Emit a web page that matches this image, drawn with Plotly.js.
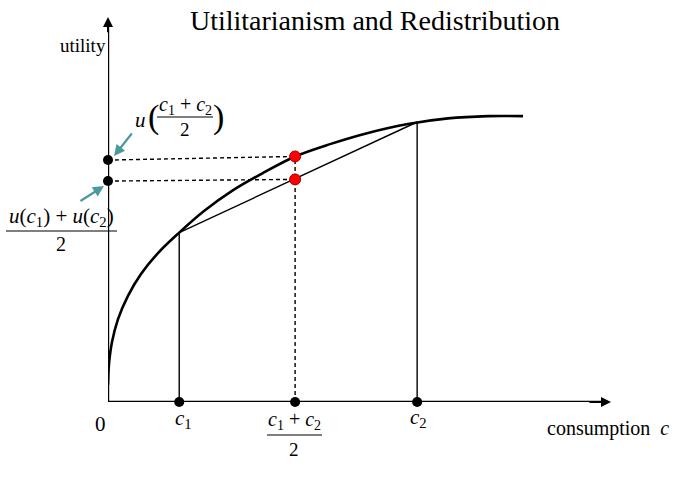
<!DOCTYPE html>
<html>
<head>
<meta charset="utf-8">
<script src="https://cdn.plot.ly/plotly-3.0.1.min.js"></script>
<style>html,body{margin:0;padding:0;background:#fff;}#chart{width:699px;height:478px;}</style>
</head>
<body>
<div id="chart"></div>
<script>
// ---- data (abstract units) ----
const curveX = [0, 0.026, 0.104, 0.260, 0.519, 0.857, 1.299, 1.85, 2.494, 3.221, 4.026, 4.86, 5.766, 6.753, 7.792, 8.831, 9.870, 10.78];
const curveY = [0.61, 1.36, 2.14, 2.96, 3.79, 4.57, 5.32, 6.05, 6.82, 7.54, 8.18, 8.77, 9.21, 9.61, 9.93, 10.13, 10.21, 10.21];
const c1 = 1.85, c2 = 8.03, cMid = 4.86;
const uC1 = 6.05, uC2 = 10.0;
const uMid = 8.77;          // u((c1+c2)/2) on the curve
const uAvg = 7.95;          // (u(c1)+u(c2))/2 on the chord
const axisDotY = [8.64, 7.89]; // dots on the utility axis
const xMax = 13.065, yMax = 13.75;

const serif = 'Liberation Serif, Times New Roman, serif';
const L = 108, T = 17, W = 503, H = 385;
const px = x => (x - L) / W;
const py = y => (T + H - y) / H;

const black = '#000';
const traces = [
  // curve
  {x: curveX, y: curveY, mode: 'lines', line: {color: black, width: 2.6, shape: 'spline', smoothing: 1}},
  // chord
  {x: [c1, c2], y: [uC1, uC2], mode: 'lines', line: {color: black, width: 1.4}},
  // verticals at c1, c2
  {x: [c1, c1], y: [0, uC1], mode: 'lines', line: {color: black, width: 1.4}},
  {x: [c2, c2], y: [0, uC2], mode: 'lines', line: {color: black, width: 1.4}},
  // dashed lines
  {x: [0, cMid], y: [axisDotY[0], uMid], mode: 'lines', line: {color: black, width: 1.4, dash: '4px,3px'}},
  {x: [0, cMid], y: [axisDotY[1], uAvg], mode: 'lines', line: {color: black, width: 1.4, dash: '4px,3px'}},
  {x: [cMid, cMid], y: [0, uMid], mode: 'lines', line: {color: black, width: 1.4, dash: '4px,3px'}},
  // axes
  {x: [0, 0], y: [0, yMax - 0.3], mode: 'lines', line: {color: black, width: 2.4}, cliponaxis: false},
  {x: [0, xMax - 0.2], y: [0, 0], mode: 'lines', line: {color: black, width: 2.4}, cliponaxis: false},
  // black dots
  {x: [0, 0, c1, cMid, c2], y: [axisDotY[0], axisDotY[1], 0, 0, 0], mode: 'markers',
   marker: {color: black, size: 10}, cliponaxis: false},
  // red dots
  {x: [cMid, cMid], y: [uMid, uAvg], mode: 'markers',
   marker: {color: '#ff0000', size: 11, line: {color: '#a00000', width: 1}}, cliponaxis: false}
];

const ann = [];
function txt(text, x, y, size, extra) {
  ann.push(Object.assign({text: text, xref: 'paper', yref: 'paper', x: px(x), y: py(y),
    xanchor: 'center', yanchor: 'middle', showarrow: false,
    font: {family: serif, size: size, color: black}}, extra || {}));
}
const shapes = [];
function bar(x0, x1, y) {
  shapes.push({type: 'line', xref: 'paper', yref: 'paper', x0: px(x0), x1: px(x1), y0: py(y), y1: py(y),
    line: {color: black, width: 1.2}});
}
const ci = n => '<i>c</i><sub>' + n + '</sub>';

// axis arrowheads
ann.push({x: xMax, y: 0, ax: xMax - 0.6, ay: 0, axref: 'x', ayref: 'y', xref: 'x', yref: 'y', text: '',
  showarrow: true, arrowhead: 2, arrowsize: 1, arrowwidth: 2, arrowcolor: black});
ann.push({x: 0, y: yMax, ax: 0, ay: yMax - 0.6, axref: 'x', ayref: 'y', xref: 'x', yref: 'y', text: '',
  showarrow: true, arrowhead: 2, arrowsize: 1, arrowwidth: 2, arrowcolor: black});

// labels
txt('utility', 83, 45, 19);
txt('consumption  <i>c</i>', 608, 428, 20);
txt('0', 100, 424, 21);
txt(ci(1), 183, 419, 21);
txt(ci(2), 418, 418, 21);
txt(ci(1) + ' + ' + ci(2), 294, 421, 20);
bar(267, 322, 435);
txt('2', 294, 449, 19);

// u((c1+c2)/2)
txt('<i>u</i>', 140, 120, 21);
txt('(', 153, 117, 34);
txt(ci(1) + ' + ' + ci(2), 185, 106, 20);
bar(157, 213, 117);
txt('2', 185, 129, 19);
txt(')', 218, 117, 34);

// (u(c1)+u(c2))/2
txt('<i>u</i>(' + ci(1) + ') + <i>u</i>(' + ci(2) + ')', 61, 217, 21);
bar(6, 117, 231);
txt('2', 61, 244, 20);

// teal arrows
const teal = '#4a9a9c';
ann.push({xref: 'paper', yref: 'paper', x: px(114), y: py(156), ax: 19, ay: -24, text: '',
  showarrow: true, arrowhead: 2, arrowsize: 1, arrowwidth: 2.2, arrowcolor: teal});
ann.push({xref: 'paper', yref: 'paper', x: px(104), y: py(186), ax: -25, ay: 16, text: '',
  showarrow: true, arrowhead: 2, arrowsize: 1, arrowwidth: 2.2, arrowcolor: teal});

const layout = {
  width: 699, height: 478,
  margin: {l: L, r: 699 - L - W, t: T, b: 478 - T - H},
  paper_bgcolor: '#fff', plot_bgcolor: '#fff',
  showlegend: false,
  title: {text: 'Utilitarianism and Redistribution', xref: 'container', yref: 'container',
    x: 375 / 699, y: 1 - 20 / 478, xanchor: 'center', yanchor: 'middle',
    font: {family: serif, size: 28, color: black}},
  xaxis: {range: [0, xMax], visible: false, fixedrange: true},
  yaxis: {range: [0, yMax], visible: false, fixedrange: true},
  annotations: ann,
  shapes: shapes
};

Plotly.newPlot('chart', traces.map(t => Object.assign({type: 'scatter', hoverinfo: 'skip'}, t)), layout,
  {staticPlot: true, displayModeBar: false});
</script>
</body>
</html>
